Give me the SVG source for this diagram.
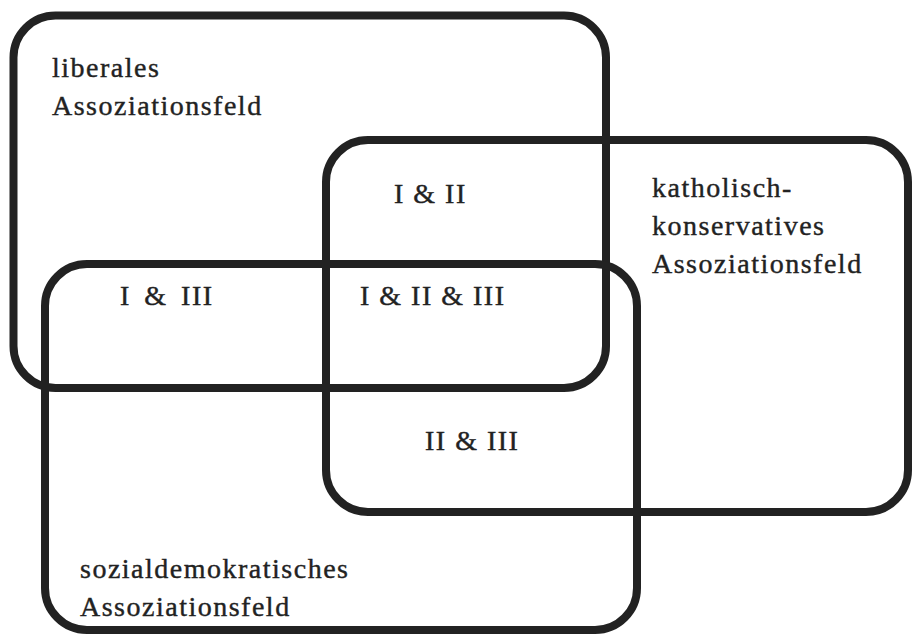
<svg xmlns="http://www.w3.org/2000/svg" width="912" height="634" viewBox="0 0 912 634">
<style>
.field{fill:none;stroke:#222;stroke-width:8}
text{font-family:"Liberation Serif","Times New Roman",serif;font-size:28px;fill:#222;stroke:#222;stroke-width:0.4;letter-spacing:1.5px}
</style>
<rect width="912" height="634" fill="#fff"/>
<g id="connectors"></g>
<g id="liberal">
<rect class="field" x="13.5" y="15.5" width="592.5" height="372.5" rx="42"/>
<text x="52" y="77">liberales</text>
<text x="52" y="115">Assoziationsfeld</text>
</g>
<g id="katholisch">
<rect class="field" x="326" y="140" width="582" height="372" rx="42"/>
<text x="652" y="197">katholisch-</text>
<text x="652" y="235">konservatives</text>
<text x="652" y="273">Assoziationsfeld</text>
</g>
<g id="sozial">
<rect class="field" x="45" y="264" width="592" height="366" rx="42"/>
<text x="80" y="578">sozialdemokratisches</text>
<text x="80" y="616">Assoziationsfeld</text>
</g>
<g id="overlap-12"><text x="394" y="203">I &amp; II</text></g>
<g id="overlap-13"><text x="120" y="305" word-spacing="5" letter-spacing="3.5">I &amp; III</text></g>
<g id="overlap-123"><text x="360" y="305" letter-spacing="1">I &amp; II &amp; III</text></g>
<g id="overlap-23"><text x="425" y="450" letter-spacing="1">II &amp; III</text></g>
</svg>
